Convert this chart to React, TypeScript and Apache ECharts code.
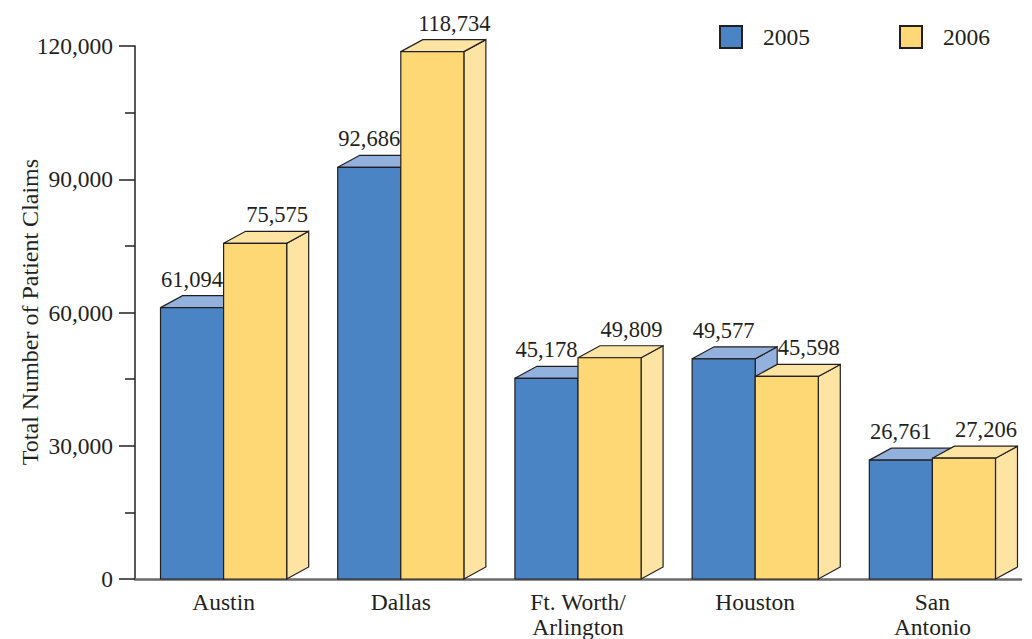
import React, { useEffect, useRef } from "react";
import * as echarts from "echarts";

const categories = ["Austin", "Dallas", "Ft. Worth/\nArlington", "Houston", "San\nAntonio"];
const seriesNames = ["2005", "2006"];
const claims2005 = [61094, 92686, 45178, 49577, 26761];
const claims2006 = [75575, 118734, 49809, 45598, 27206];
const yAxisTitle = "Total Number of Patient Claims";

const FONT = "'Liberation Serif', 'Times New Roman', serif";
const INK = "#231f20";
const FRONT = ["#4a84c4", "#fdd874"];
const LIGHT = ["#93b1dd", "#fee4a3"];

function fmt(v: number) {
  return v.toLocaleString("en-US");
}

function makeRender(s: number) {
  return (params: any, api: any) => {
    const idx = api.value(0);
    const val = api.value(1);
    const top = api.coord([idx, val]);
    const base = api.coord([idx, 0]);
    const cw = api.size([1, 0])[0];
    const w = cw * 0.356;
    const x0 = top[0] + (s === 0 ? -w : 0);
    const x1 = x0 + w;
    const yT = top[1];
    const yB = base[1];
    const dx = 22;
    const dy = 12;
    const stroke = { stroke: INK, lineWidth: 1.2 };
    const labelOffset = s === 0 ? 0 : 22;
    return {
      type: "group",
      children: [
        {
          type: "polygon",
          shape: { points: [[x1, yT], [x1 + dx, yT - dy], [x1 + dx, yB - dy], [x1, yB]] },
          style: { fill: LIGHT[s], ...stroke },
        },
        {
          type: "polygon",
          shape: { points: [[x0, yT], [x0 + dx, yT - dy], [x1 + dx, yT - dy], [x1, yT]] },
          style: { fill: LIGHT[s], ...stroke },
        },
        {
          type: "rect",
          shape: { x: x0, y: yT, width: w, height: yB - yT },
          style: { fill: FRONT[s], ...stroke },
        },
        {
          type: "text",
          z2: 100,
          style: {
            text: fmt(val),
            x: x0 + w / 2 + labelOffset,
            y: yT - dy - 5,
            align: "center",
            verticalAlign: "bottom",
            fill: INK,
            font: `22.5px ${FONT}`,
          },
        },
      ],
    };
  };
}

export default function App() {
  const ref = useRef<HTMLDivElement>(null);
  useEffect(() => {
    if (!ref.current) return;
    const chart = echarts.init(ref.current, null, { renderer: "svg" });
    const datasets = [claims2005, claims2006];
    chart.setOption({
      animation: false,
      backgroundColor: "#ffffff",
      textStyle: { fontFamily: FONT, color: INK },
      grid: { left: 135, right: 11, top: 46, bottom: 60, containLabel: false, outerBoundsMode: "none" },
      legend: {
        left: 719,
        top: 25,
        padding: 0,
        itemWidth: 22,
        itemHeight: 22,
        itemGap: 89,
        icon: "rect",
        data: seriesNames,
        textStyle: { fontFamily: FONT, fontSize: 23.5, color: INK, padding: [0, 0, 0, 16] },
      },
      xAxis: {
        type: "category",
        data: categories,
        axisLine: { show: true, lineStyle: { color: "#6b6b6b", width: 2.5 } },
        axisTick: { show: false },
        axisLabel: {
          fontFamily: FONT,
          fontSize: 23.5,
          color: INK,
          lineHeight: 25,
          margin: 10,
          interval: 0,
        },
      },
      yAxis: {
        type: "value",
        min: 0,
        max: 120000,
        interval: 30000,
        axisLine: { show: true, lineStyle: { color: INK, width: 1.5 } },
        axisTick: { show: true, length: 16, lineStyle: { color: INK, width: 1.5 } },
        minorTick: { show: true, splitNumber: 2, length: 10, lineStyle: { color: INK, width: 1.5 } },
        splitLine: { show: false },
        axisLabel: {
          fontFamily: FONT,
          fontSize: 23.5,
          color: INK,
          margin: 22,
          formatter: (v: number) => fmt(v),
        },
      },
      graphic: [
        {
          type: "text",
          x: 30,
          y: 312,
          rotation: Math.PI / 2,
          style: {
            text: yAxisTitle,
            align: "center",
            verticalAlign: "middle",
            fill: INK,
            font: `24px ${FONT}`,
          },
        },
      ],
      series: seriesNames.map((name, s) => ({
        name,
        type: "custom",
        clip: false,
        itemStyle: { color: FRONT[s], borderColor: INK, borderWidth: 1.2 },
        encode: { x: 0, y: 1 },
        renderItem: makeRender(s),
        data: datasets[s].map((v, i) => [i, v]),
      })),
    });
    return () => chart.dispose();
  }, []);
  return (
    <div
      ref={ref}
      style={{ position: "fixed", left: 0, top: 0, width: 1032, height: 639 }}
    />
  );
}
